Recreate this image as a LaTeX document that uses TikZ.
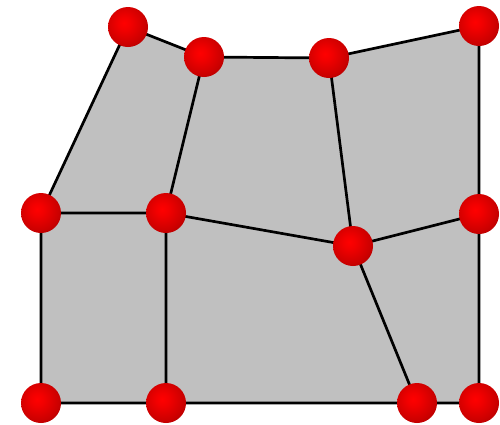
\documentclass[tikz,border=0pt]{standalone}
\pgfdeclareradialshading{redsphere}{\pgfpoint{-5bp}{5bp}}{%
  color(0bp)=(red!100);
  color(8bp)=(red!95!black);
  color(25bp)=(red!80!black);
  color(40bp)=(red!62!black);
  color(52bp)=(red!38!black);
  color(58bp)=(red!30!black);
  color(100bp)=(red!30!black)}
\definecolor{panelgray}{RGB}{192,192,192}
\tikzset{
  ball/.style={circle,minimum size=40pt,inner sep=0pt,shading=redsphere},
  edge/.style={draw=black,line width=2.7pt}
}
\begin{document}
\begin{tikzpicture}[x=1pt,y=-1pt]
\useasboundingbox (0,0) rectangle (500,424);
\coordinate (A) at (128,27);
\coordinate (B) at (204,57);
\coordinate (C) at (329,58);
\coordinate (D) at (479,26);
\coordinate (E) at (41,213);
\coordinate (F) at (166,213);
\coordinate (G) at (353,246);
\coordinate (H) at (479,214);
\coordinate (I) at (41,403);
\coordinate (J) at (166,403);
\coordinate (K) at (417,403);
\coordinate (L) at (479,403);
\fill[panelgray] (A) -- (B) -- (C) -- (D) -- (L) -- (I) -- (E) -- cycle;
\draw[edge] (A) -- (B) -- (C) -- (D) -- (H) -- (L) -- (K) -- (J) -- (I) -- (E) -- (A);
\draw[edge] (E) -- (F) -- (G) -- (H);
\draw[edge] (B) -- (F) -- (J);
\draw[edge] (C) -- (G) -- (K);
\foreach \n in {A,B,C,D,E,F,G,H,I,J,K,L}
  \node[ball] (n\n) at (\n) {};
\end{tikzpicture}
\end{document}
